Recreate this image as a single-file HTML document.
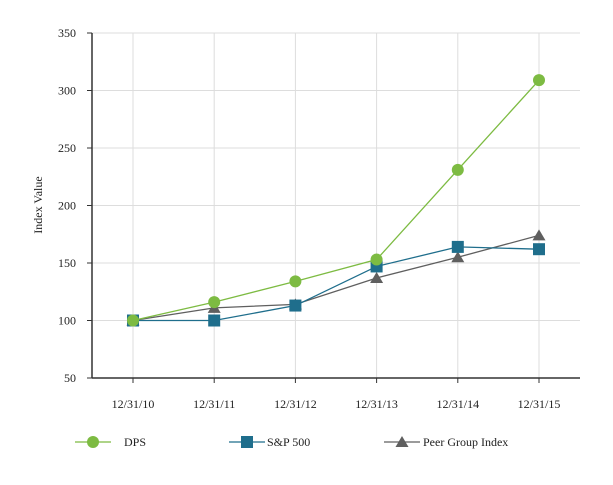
<!DOCTYPE html>
<html><head><meta charset="utf-8"><style>
body{margin:0;background:#fff;}
svg text{font-family:"Liberation Serif",serif;font-size:12px;fill:#222;}
</style></head><body>
<svg id="chart" width="613" height="480" xmlns="http://www.w3.org/2000/svg"></svg>
<script>
const categories=["12/31/10","12/31/11","12/31/12","12/31/13","12/31/14","12/31/15"];
const yTicks=[50,100,150,200,250,300,350];
const dpsValues=[100,116,134,153,231,309];
const spValues=[100,100,113,147,164,162];
const peerValues=[100,111,114,137,155,174];
const seriesNames=["DPS","S&P 500","Peer Group Index"];

const svg=document.getElementById('chart');
const NS="http://www.w3.org/2000/svg";
const plotLeft=92,plotRight=580,plotTop=33,plotBottom=378,yMin=50,yMax=350;
const x0=133,xStep=81.2;
function xs(i){return x0+i*xStep;}
function ys(v){return plotBottom-(v-yMin)/(yMax-yMin)*(plotBottom-plotTop);}
function mk(tag,attrs,parent){const e=document.createElementNS(NS,tag);for(const k in attrs)e.setAttribute(k,attrs[k]);(parent||svg).appendChild(e);return e;}

yTicks.forEach(t=>{
  if(t>yMin){const g=mk('line',{x1:plotLeft,x2:plotRight,y1:ys(t),y2:ys(t),stroke:'#ddd','stroke-width':1});
  
  }
  const tx=mk('text',{x:plotLeft-16,y:ys(t)+4,'text-anchor':'end'});tx.textContent=t;
  
  
  const tk=mk('line',{x1:plotLeft-5,x2:plotLeft,y1:ys(t),y2:ys(t),stroke:'#333'});
  
  
});
categories.forEach((c,i)=>{
  const g=mk('line',{x1:xs(i),x2:xs(i),y1:plotTop,y2:plotBottom,stroke:'#ddd','stroke-width':1});
  
  
  const tk=mk('line',{x1:xs(i),x2:xs(i),y1:plotBottom,y2:plotBottom+5,stroke:'#333'});
  
  
  const tx=mk('text',{x:xs(i),y:plotBottom+30,'text-anchor':'middle'});tx.textContent=c;
  
  
});
const ax=mk('line',{x1:plotLeft,x2:plotLeft,y1:plotTop,y2:plotBottom,stroke:'#333','stroke-width':1.5});


const bx=mk('line',{x1:plotLeft,x2:plotRight,y1:plotBottom,y2:plotBottom,stroke:'#333','stroke-width':1.5});


const yt=mk('text',{x:0,y:0,transform:'translate(42,205) rotate(-90)','text-anchor':'middle'});yt.textContent='Index Value';



function marker(type,cx,cy,color,name){
  let e;
  if(type==='circle')e=mk('circle',{cx:cx,cy:cy,r:6,fill:color});
  else if(type==='square')e=mk('rect',{x:cx-6,y:cy-6,width:12,height:12,fill:color});
  else e=mk('polygon',{points:`${cx},${cy-6} ${cx+6.5},${cy+5} ${cx-6.5},${cy+5}`,fill:color});
  
  
}
function series(vals,color,type,name){
  const p=mk('polyline',{points:vals.map((v,i)=>xs(i)+','+ys(v)).join(' '),fill:'none',stroke:color,'stroke-width':1.3});
  
  
  vals.forEach((v,i)=>marker(type,xs(i),ys(v),color,name+'-point'));
}
series(peerValues,'#5f5f5f','tri','peer-group');
series(spValues,'#1f6e8c','square','sp500');
series(dpsValues,'#7dbb42','circle','dps');

const leg=[[93,124,'#7dbb42','circle'],[247,267,'#1f6e8c','square'],[402,423,'#5f5f5f','tri']];
leg.forEach((l,i)=>{
  const ln=mk('line',{x1:l[0]-18,x2:l[0]+18,y1:442,y2:442,stroke:l[2],'stroke-width':1.3});
  
  
  marker(l[3],l[0],442,l[2],'legend-marker');
  const t=mk('text',{x:l[1],y:446});t.textContent=seriesNames[i];
  
  
});
</script>
</body></html>
